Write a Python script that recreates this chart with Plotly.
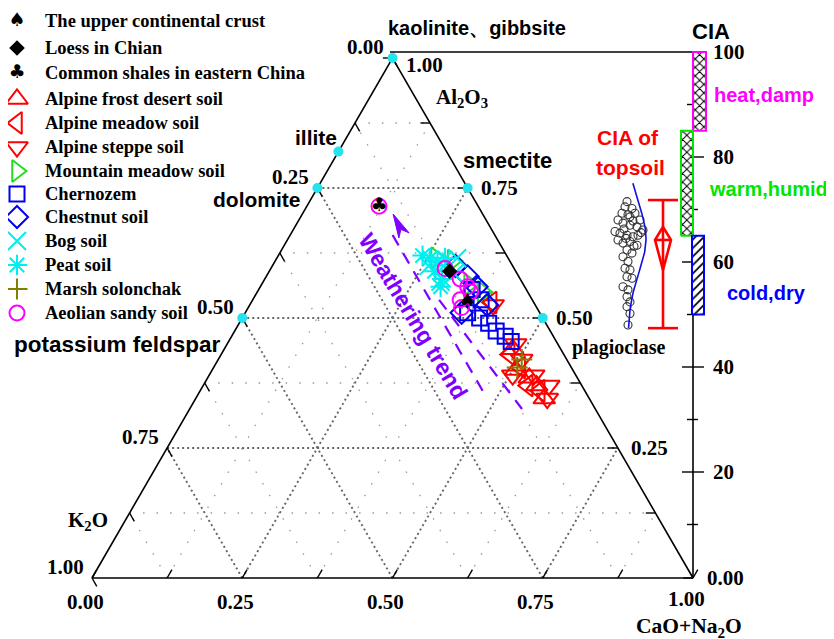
import numpy as np
import plotly.graph_objects as go

# ---------------- data: ternary proportions  A = Al2O3, CN = CaO*+Na2O  (K2O = 1 - A - CN)
ucc_A, ucc_CN = [0.53], [0.36]
loess_A, loess_CN = [0.59], [0.30]
shale_A, shale_CN = [0.715], [0.12]

frost_A = [0.44, 0.40, 0.385, 0.345, 0.37]
frost_CN = [0.48, 0.505, 0.535, 0.58, 0.555]
meadow_A = [0.43, 0.405, 0.37, 0.36, 0.53]
meadow_CN = [0.48, 0.51, 0.54, 0.565, 0.40]
steppe_A = [0.45, 0.42, 0.39, 0.39, 0.37, 0.345, 0.525]
steppe_CN = [0.48, 0.505, 0.505, 0.54, 0.575, 0.585, 0.405]
mtn_A = [0.615, 0.61, 0.55, 0.565]
mtn_CN = [0.265, 0.295, 0.375, 0.345]
chern_A = [0.555, 0.535, 0.51, 0.50, 0.49, 0.475, 0.465, 0.455]
chern_CN = [0.355, 0.38, 0.37, 0.395, 0.415, 0.435, 0.455, 0.47]
chest_A = [0.60, 0.58, 0.56, 0.51, 0.525]
chest_CN = [0.305, 0.335, 0.36, 0.36, 0.395]
bog_A = [0.60, 0.60, 0.585, 0.57, 0.615]
bog_CN = [0.26, 0.285, 0.31, 0.295, 0.30]
peat_A = [0.62, 0.615, 0.61, 0.615, 0.59, 0.575, 0.56]
peat_CN = [0.24, 0.255, 0.27, 0.28, 0.275, 0.295, 0.30]
marsh_A = [0.42, 0.405]
marsh_CN = [0.505, 0.505]
aeol_A = [0.595, 0.575, 0.56, 0.55, 0.535, 0.52, 0.715]
aeol_CN = [0.29, 0.325, 0.345, 0.355, 0.345, 0.355, 0.12]

# reference minerals
mineral_names = ["kaolinite", "illite", "smectite", "dolomite", "potassium feldspar", "plagioclase"]
mineral_A = [1.00, 0.82, 0.75, 0.75, 0.50, 0.50]
mineral_CN = [0.00, 0.00, 0.25, 0.00, 0.00, 0.50]

# weathering trend lines (compositions of end points)
trend1_A, trend1_CN = [0.36, 0.66], [0.47, 0.17]
trend1_tip_A, trend1_tip_CN = 0.70, 0.151
trend2_A, trend2_CN = [0.535, 0.325], [0.31, 0.553]

tick_values = [0.0, 0.25, 0.50, 0.75, 1.0]
tick_labels = ["0.00", "0.25", "0.50", "0.75", "1.00"]

# CIA scale
cia_major = [20, 40, 60, 80]
cia_minor = [10, 30, 50, 70, 90]
cia_labels = ["100", "80", "60", "40", "20"]
cia_label_vals = [100, 80, 60, 40, 20]
zone_names = ["heat,damp", "warm,humid", "cold,dry"]
zone_low = [85, 65, 50]
zone_high = [100, 85, 65]

# CIA of topsoil samples
topsoil_cia = [71.5, 70.5, 70.2, 69.3, 69.0, 69.3, 68.0, 68.0, 67.4, 67.0, 66.7, 66.1,
               65.8, 65.5, 65.1, 64.8, 65.1, 64.2, 63.6, 63.9, 63.2, 62.3, 61.7, 61.0,
               60.1, 58.8, 58.5, 57.2, 56.9, 55.3, 54.7, 53.4, 52.4, 51.5, 50.2, 48.0,
               67.8, 66.3, 65.6, 64.5, 63.0, 68.6]
topsoil_jitter = [627, 625, 632, 622, 628, 635, 640, 618, 623, 630, 637, 643,
                  615, 620, 627, 633, 638, 618, 623, 630, 637, 627, 632, 623,
                  628, 625, 630, 627, 632, 623, 628, 627, 630, 627, 630, 628,
                  633, 624, 641, 626, 634, 630]
topsoil_max, topsoil_min = 71.8, 47.4
topsoil_mean, topsoil_up, topsoil_lo = 64.2, 66.7, 58.5
fit_mean, fit_sd = 64.5, 6.5

# ---------------- layout calibration (screen pixels)
W, H = 834, 639
OFF = 8                      # page body margin
PX0, PX1, PY0 = 92, 693, 578
SX = PX1 - PX0
SY = 520 / (np.sqrt(3) / 2)
CIA0_PY, CIA_PX_PER = 577, 5.25
SQ3 = np.sqrt(3) / 2
SERIF = "Liberation Serif"
SANS = "Liberation Sans"
PURPLE = "#7f00ff"


def tern(A, CN):
    A = np.asarray(A, float)
    CN = np.asarray(CN, float)
    return CN + A / 2, A * SQ3


def paper(px, py):
    return (px - OFF) / W, 1 - (py - OFF) / H


fig = go.Figure()


def add_lines(xs, ys, color, width, dash=None, xa="x", ya="y"):
    fig.add_trace(go.Scatter(x=xs, y=ys, mode="lines", xaxis=xa, yaxis=ya,
                             line=dict(color=color, width=width, dash=dash),
                             hoverinfo="skip", showlegend=False))


def grid(levels):
    xs, ys = [], []
    for v in levels:
        for a0, c0, a1, c1 in [(v, 0, v, 1 - v), (0, v, 1 - v, v), (0, 1 - v, 1 - v, 0)]:
            x, y = tern([a0, a1], [c0, c1])
            xs += list(x) + [None]
            ys += list(y) + [None]
    return xs, ys


gx, gy = grid([0.125, 0.375, 0.625, 0.875])
add_lines(gx, gy, "#9a9a9a", 1.3, "1.5px,12px")
gx, gy = grid([0.25, 0.5, 0.75])
add_lines(gx, gy, "#666666", 1.9, "2px,3px")

# triangle frame
ex, ey = tern([0, 0, 1, 0], [0, 1, 0, 0])
add_lines(list(ex), list(ey), "black", 1.6)

# ternary ticks
L = 0.016
tx, ty = [], []
for v in np.arange(0, 1.0001, 0.125):
    bx, by = tern(0, v)
    tx += [bx, bx + 0.5 * L, None]; ty += [by, by + SQ3 * L, None]
    bx, by = tern(1 - v, 0)
    tx += [bx, bx + 0.5 * L, None]; ty += [by, by - SQ3 * L, None]
    bx, by = tern(v, 1 - v)
    tx += [bx, bx - L, None]; ty += [by, by, None]
add_lines(tx, ty, "black", 1.4)

# ternary tick labels
NUMFONT = dict(family=SERIF, size=21, color="black")
for v, lab in zip(tick_values, tick_labels):
    bx, by = tern(0, v)
    fig.add_annotation(x=float(bx), y=float(by), text="<b>%s</b>" % lab, showarrow=False,
                       xanchor="center", yanchor="middle", xshift=-7,
                       yshift=(-21 if v == 1.0 else -24), font=NUMFONT)
    bx, by = tern(1 - v, 0)
    fig.add_annotation(x=float(bx), y=float(by), text="<b>%s</b>" % lab, showarrow=False,
                       xanchor="center", yanchor="middle", xshift=-27, yshift=11, font=NUMFONT)
    bx, by = tern(v, 1 - v)
    fig.add_annotation(x=float(bx), y=float(by), text="<b>%s</b>" % lab, showarrow=False,
                       xanchor="center", yanchor="middle", xshift=32, yshift=(-7 if v == 1.0 else 0),
                       font=NUMFONT)

# ---------------- CIA scale (x2 = pixel x, y3 = CIA units)
add_lines([390, PX1], [100, 100], "black", 1.6, xa="x2", ya="y3")
add_lines([PX1, PX1], [0, 100], "black", 1.6, xa="x2", ya="y3")
cx, cy = [], []
for v in cia_major:
    cx += [PX1 - 11, PX1 + 11, None]; cy += [v, v, None]
for v in cia_minor:
    cx += [PX1 - 6, PX1 + 5, None]; cy += [v, v, None]
add_lines(cx, cy, "black", 1.4, xa="x2", ya="y3")
for v, lab in zip(cia_label_vals, cia_labels):
    fig.add_annotation(x=711, y=v, xref="x2", yref="y3", text="<b>%s</b>" % lab, showarrow=False,
                       xanchor="left", yanchor="middle", font=NUMFONT)

zone_colors = ["#ff00ff", "#00e600", "#0000ff"]
zone_x = [(693, 706), (681, 693), (692, 704)]
zone_pat = ["x", "x", "/"]
zone_text_pos = [(764, 95), (768, 189), (766, 293)]
for nm, lo, hi, col, (x0, x1), pat, (tpx, tpy) in zip(zone_names, zone_low, zone_high, zone_colors,
                                                     zone_x, zone_pat, zone_text_pos):
    fig.add_trace(go.Scatter(x=[x0, x1, x1, x0, x0], y=[lo, lo, hi, hi, lo], xaxis="x2", yaxis="y3",
                             mode="lines", fill="toself",
                             fillpattern=dict(shape=pat, fgcolor="black", fgopacity=1, bgcolor="white",
                                              size=6, solidity=0.3, fillmode="overlay"),
                             line=dict(color=col, width=2), hoverinfo="skip", showlegend=False))
    ax_, ay_ = paper(tpx, tpy)
    fig.add_annotation(x=ax_, y=ay_, xref="paper", yref="paper", text="<b>%s</b>" % nm,
                       xanchor="center", yanchor="middle",
                       showarrow=False, font=dict(family=SANS, size=20, color=col))

# topsoil CIA distribution
fig.add_trace(go.Scatter(x=topsoil_jitter, y=topsoil_cia, xaxis="x2", yaxis="y3", mode="markers",
                         marker=dict(symbol="circle-open", size=8, color="#333333", line=dict(width=1.1)),
                         hoverinfo="skip", showlegend=False))
cv = np.linspace(topsoil_min, 75.0, 80)
curve_x = 628 + 18 * np.exp(-0.5 * ((cv - fit_mean) / fit_sd) ** 2)
add_lines(list(curve_x), list(cv), "#1010e0", 1.6, xa="x2", ya="y3")
bx_ = [648, 678, None, 648, 678, None, 663, 663, None,
       663, 671, 663, 655, 663, None, 655, 671]
by_ = [topsoil_max, topsoil_max, None, topsoil_min, topsoil_min, None, topsoil_min, topsoil_max, None,
       topsoil_up, topsoil_mean, topsoil_lo, topsoil_mean, topsoil_up, None, topsoil_mean, topsoil_mean]
add_lines(bx_, by_, "#ff0000", 2.6, xa="x2", ya="y3")

# ---------------- weathering trend
x1t, y1t = tern(trend1_A, trend1_CN)
add_lines(list(x1t), list(y1t), PURPLE, 2.2, "12px,9px")
x2t, y2t = tern(trend2_A, trend2_CN)
add_lines(list(x2t), list(y2t), PURPLE, 2.2, "12px,9px")
tipx, tipy = tern(trend1_tip_A, trend1_tip_CN)
d = np.array([tipx - x1t[0], tipy - y1t[0]])
d = d / np.hypot(*d)
n = np.array([-d[1], d[0]])
T = np.array([float(tipx), float(tipy)])
head_len, head_hw = 0.040, 0.0095
B = T - d * head_len
N = T - d * head_len * 0.72
poly = [T, B + n * head_hw, N, B - n * head_hw, T]
fig.add_trace(go.Scatter(x=[p[0] for p in poly], y=[p[1] for p in poly], mode="lines", fill="toself",
                         fillcolor=PURPLE, line=dict(color=PURPLE, width=1), hoverinfo="skip",
                         showlegend=False))

# ---------------- series (data + legend glyph)
series = [
    ("The upper continental crust", ucc_A, ucc_CN, dict(text="♠")),
    ("Loess in Chian", loess_A, loess_CN, dict(symbol="diamond", size=12, color="black", lw=0)),
    ("Common shales in eastern China", shale_A, shale_CN, dict(text="♣")),
    ("Alpine frost desert soil", frost_A, frost_CN, dict(symbol="triangle-up-open", size=19, color="#ff0000", lw=2)),
    ("Alpine meadow soil", meadow_A, meadow_CN, dict(symbol="triangle-left-open", size=19, color="#ff0000", lw=2)),
    ("Alpine steppe soil", steppe_A, steppe_CN, dict(symbol="triangle-down-open", size=19, color="#ff0000", lw=2)),
    ("Mountain meadow soil", mtn_A, mtn_CN, dict(symbol="triangle-right-open", size=19, color="#22dd22", lw=2)),
    ("Chernozem", chern_A, chern_CN, dict(symbol="square-open", size=15, color="#0000ee", lw=2)),
    ("Chestnut soil", chest_A, chest_CN, dict(symbol="diamond-open", size=17, color="#0000ee", lw=2)),
    ("Bog soil", bog_A, bog_CN, dict(symbol="x-thin-open", size=18, color="#00eeee", lw=2)),
    ("Peat soil", peat_A, peat_CN, dict(symbol="asterisk-open", size=17, color="#00eeee", lw=2)),
    ("Marsh solonchak", marsh_A, marsh_CN, dict(symbol="cross-thin-open", size=15, color="#808000", lw=2)),
    ("Aeolian sandy soil", aeol_A, aeol_CN, dict(symbol="circle-open", size=15, color="#ff00ff", lw=2)),
]
legend_rows = [21, 48, 73, 99, 123, 147, 171, 194, 217, 241, 265, 289, 313]
draw_order = [3, 4, 5, 6, 7, 8, 9, 10, 11, 12, 1, 0, 2]


def glyph_trace(x, y, st, xa, ya):
    if "text" in st:
        return go.Scatter(x=x, y=y, mode="text", text=[st["text"]] * len(x), xaxis=xa, yaxis=ya,
                          textposition="middle center",
                          textfont=dict(family="DejaVu Sans", size=19, color="black"),
                          hoverinfo="skip", showlegend=False)
    return go.Scatter(x=x, y=y, mode="markers", xaxis=xa, yaxis=ya,
                      marker=dict(symbol=st["symbol"], size=st["size"], color=st["color"],
                                  line=dict(color=st["color"], width=st["lw"])),
                      hoverinfo="skip", showlegend=False)


for i in draw_order:
    name, A, CN, st = series[i]
    x, y = tern(A, CN)
    fig.add_trace(glyph_trace(list(x), list(y), st, "x", "y"))

# mineral end-members
mx, my = tern(mineral_A, mineral_CN)
fig.add_trace(go.Scatter(x=list(mx), y=list(my), mode="markers", marker=dict(size=10, color="#22e3ee"),
                         hoverinfo="skip", showlegend=False))

# legend
for (name, A, CN, st), ry in zip(series, legend_rows):
    fig.add_trace(glyph_trace([17], [ry], st, "x2", "y2"))
    ax_, ay_ = paper(43, ry)
    fig.add_annotation(x=ax_, y=ay_, xref="paper", yref="paper", text="<b>%s</b>" % name,
                       showarrow=False, xanchor="left", yanchor="middle",
                       font=dict(family=SERIF, size=18.5, color="black"))

# ---------------- labels


def ptext(txt, px, py, size, color="black", family=SANS, angle=0):
    ax_, ay_ = paper(px, py)
    fig.add_annotation(x=ax_, y=ay_, xref="paper", yref="paper", text=txt, showarrow=False,
                       xanchor="center", yanchor="middle",
                       textangle=angle, font=dict(size=size, color=color, family=family))


ptext("<b>kaolinite、gibbsite</b>", 477, 28, 20)
ptext("<b>Al<sub>2</sub>O<sub>3</sub></b>", 462, 98, 21, family=SERIF)
ptext("<b>illite</b>", 316, 137, 21)
ptext("<b>smectite</b>", 507, 160, 22)
ptext("<b>dolomite</b>", 257, 199, 21)
ptext("<b>potassium feldspar</b>", 117, 344, 22.5)
ptext("<b>plagioclase</b>", 618, 347, 20, family=SERIF)
ptext("<b>K<sub>2</sub>O</b>", 88, 521, 21, family=SERIF)
ptext("<b>CaO+Na<sub>2</sub>O</b>", 689, 627, 21.5, family=SERIF)
ptext("<b>CIA</b>", 711, 32, 22)
ptext("<b>CIA of</b>", 628, 137, 21, color="#ff0000")
ptext("<b>topsoil</b>", 630, 167, 21, color="#ff0000")
ptext("<b>Weathering trend</b>", 413, 316, 23, color=PURPLE, angle=59)

fig.update_layout(
    width=W, height=H, autosize=False, margin=dict(l=0, r=0, t=0, b=0),
    paper_bgcolor="white", plot_bgcolor="white", showlegend=False, hovermode=False,
    xaxis=dict(range=[(OFF - PX0) / SX, (OFF + W - PX0) / SX], visible=False, domain=[0, 1]),
    yaxis=dict(range=[(PY0 - (OFF + H)) / SY, (PY0 - OFF) / SY], visible=False, domain=[0, 1]),
    xaxis2=dict(range=[OFF, OFF + W], visible=False, overlaying="x", anchor="y2"),
    yaxis2=dict(range=[OFF + H, OFF], visible=False, overlaying="y", anchor="x2"),
    yaxis3=dict(range=[(CIA0_PY - (OFF + H)) / CIA_PX_PER, (CIA0_PY - OFF) / CIA_PX_PER], visible=False,
                overlaying="y", anchor="x2"),
)
fig.write_html("out.html")
